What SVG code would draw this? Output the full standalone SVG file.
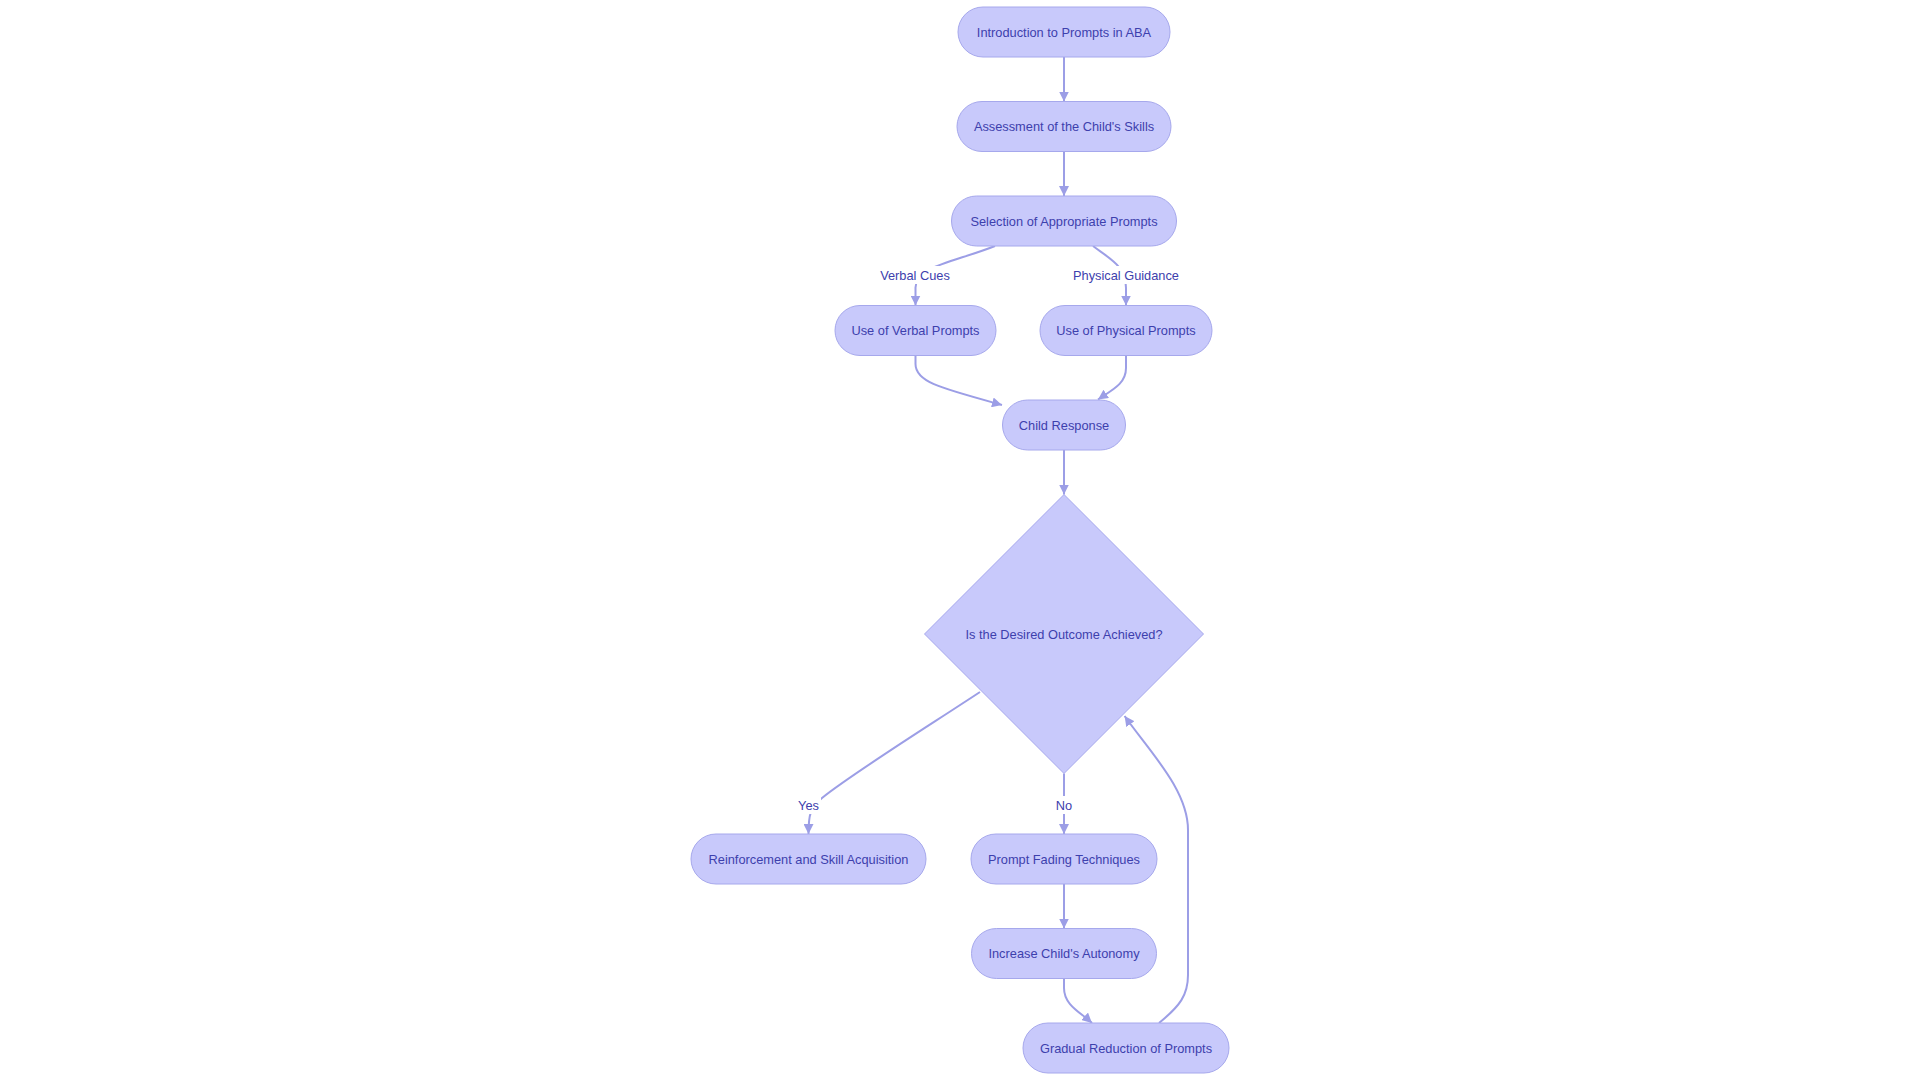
<svg xmlns="http://www.w3.org/2000/svg" width="1920" height="1080" viewBox="0 0 1920 1080">
  <defs>
    <marker id="arrow" viewBox="0 0 10 10" refX="10" refY="5" markerWidth="10" markerHeight="10" markerUnits="userSpaceOnUse" orient="auto">
      <path d="M0,0 L10,5 L0,10 z" fill="#9c9ee6"/>
    </marker>
    <style>
      .node rect, .node polygon { fill: #c8c9fb; stroke: #a6a8ec; stroke-width: 1; }
      .node text, .label text { font-family: "Liberation Sans", Arial, sans-serif; font-size: 12.8px; fill: #3d40ad; text-anchor: middle; dominant-baseline: central; }
      .edge { fill: none; stroke: #9c9ee6; stroke-width: 2; marker-end: url(#arrow); }
      .label rect { fill: #ffffff; }
    </style>
  </defs>
  <rect width="1920" height="1080" fill="#ffffff"/>

  <g id="connectors">
    <path class="edge" d="M1064,57 L1064,101.5"/>
    <path class="edge" d="M1064,151.5 L1064,196"/>
    <path class="edge" d="M995,246 C955,262 915,266 915.5,288 L915.5,305.5"/>
    <path class="edge" d="M1093,246 C1110,259 1126,266 1126,288 L1126,305.5"/>
    <path class="edge" d="M915.5,355.5 L915.5,364 C915.5,382 940,388 1002,405"/>
    <path class="edge" d="M1126,355.5 L1126,368 C1126,384 1112,390 1098,399.5"/>
    <path class="edge" d="M1064,450 L1064,494.5"/>
    <path class="edge" d="M980,692 C930,725 850,775 822,798 C810,808 808.5,815 808.5,834"/>
    <path class="edge" d="M1064,773.5 L1064,834"/>
    <path class="edge" d="M1064,884 L1064,928.5"/>
    <path class="edge" d="M1064,978.5 L1064,988 C1064,1005 1080,1012 1092,1023"/>
    <path class="edge" d="M1159,1023 C1180,1006 1188,995 1188,975 L1188,830 C1188,790 1150,752 1124.6,716"/>
    <g class="label">
      <rect x="881" y="266" width="68" height="18"/>
      <text x="915" y="275">Verbal Cues</text>
    </g>
    <g class="label">
      <rect x="1073" y="266" width="106" height="18"/>
      <text x="1126" y="275">Physical Guidance</text>
    </g>
    <g class="label">
      <rect x="796" y="796" width="25" height="18"/>
      <text x="808.5" y="805">Yes</text>
    </g>
    <g class="label">
      <rect x="1054" y="796" width="20" height="18"/>
      <text x="1064" y="805">No</text>
    </g>
  </g>

  <g id="intro" class="node">
    <rect x="958" y="7" width="212" height="50" rx="25" ry="25"/>
    <text x="1064" y="32">Introduction to Prompts in ABA</text>
  </g>
  <g id="assessment" class="node">
    <rect x="957" y="101.5" width="214" height="50" rx="25" ry="25"/>
    <text x="1064" y="126.5">Assessment of the Child's Skills</text>
  </g>
  <g id="selection" class="node">
    <rect x="951.5" y="196" width="225" height="50" rx="25" ry="25"/>
    <text x="1064" y="221">Selection of Appropriate Prompts</text>
  </g>
  <g id="verbal" class="node">
    <rect x="835" y="305.5" width="161" height="50" rx="25" ry="25"/>
    <text x="915.5" y="330.5">Use of Verbal Prompts</text>
  </g>
  <g id="physical" class="node">
    <rect x="1040" y="305.5" width="172" height="50" rx="25" ry="25"/>
    <text x="1126" y="330.5">Use of Physical Prompts</text>
  </g>
  <g id="response" class="node">
    <rect x="1002.5" y="400" width="123" height="50" rx="25" ry="25"/>
    <text x="1064" y="425">Child Response</text>
  </g>
  <g id="decision" class="node">
    <polygon points="1064,494.5 1203.5,634 1064,773.5 924.5,634"/>
    <text x="1064" y="634">Is the Desired Outcome Achieved?</text>
  </g>
  <g id="reinforcement" class="node">
    <rect x="691" y="834" width="235" height="50" rx="25" ry="25"/>
    <text x="808.5" y="859">Reinforcement and Skill Acquisition</text>
  </g>
  <g id="fading" class="node">
    <rect x="971" y="834" width="186" height="50" rx="25" ry="25"/>
    <text x="1064" y="859">Prompt Fading Techniques</text>
  </g>
  <g id="autonomy" class="node">
    <rect x="971.5" y="928.5" width="185" height="50" rx="25" ry="25"/>
    <text x="1064" y="953.5">Increase Child's Autonomy</text>
  </g>
  <g id="reduction" class="node">
    <rect x="1023" y="1023" width="206" height="50" rx="25" ry="25"/>
    <text x="1126" y="1048">Gradual Reduction of Prompts</text>
  </g>
</svg>
